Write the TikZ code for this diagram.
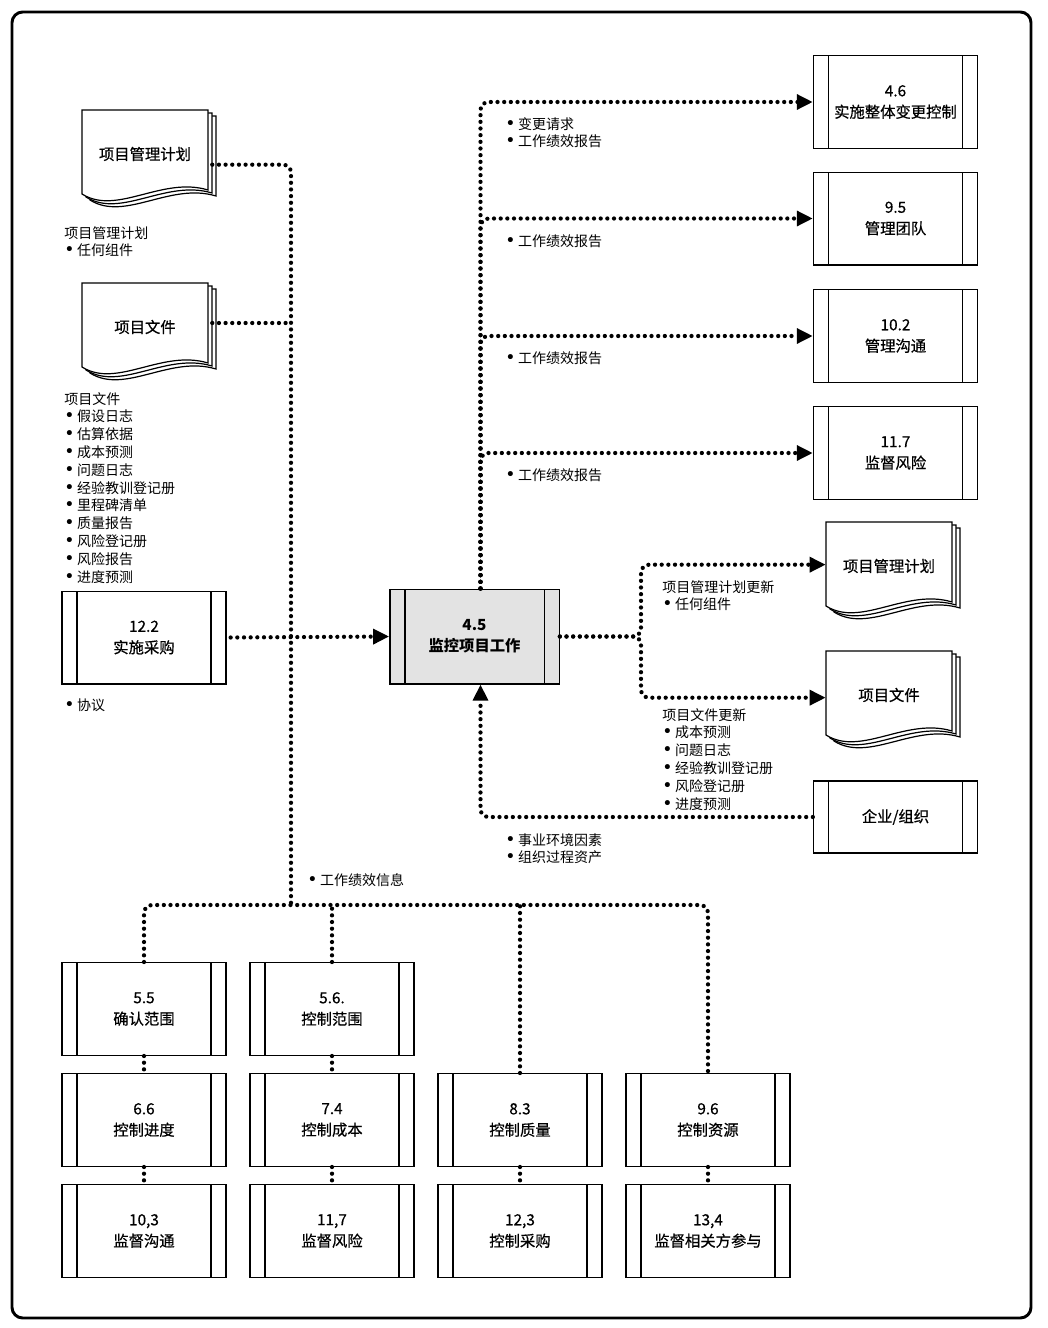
\documentclass[tikz,border=0pt]{standalone}
\usepackage{fontspec}
\setmainfont{Noto Sans CJK SC}
\newfontfamily\boxfont{Noto Sans CJK SC}[FakeBold=0.6]
\newfontfamily\symfont{DejaVu Sans}
\newcommand\bul{{\symfont\fontsize{13}{13}\selectfont\char"2022}\hspace{2pt}}
\usetikzlibrary{arrows.meta}

\tikzset{
  procbox/.style={draw, line width=1pt, fill=white, minimum width=123pt, minimum height=69.5pt,
    align=center, font=\boxfont\fontsize{11.5}{16}\selectfont,
    path picture={\draw[line width=1pt]
      ([xshift=11.25pt]path picture bounding box.north west) -- ([xshift=11.25pt]path picture bounding box.south west)
      ([xshift=-11.25pt]path picture bounding box.north east) -- ([xshift=-11.25pt]path picture bounding box.south east);}},
  docpage/.style={draw, line width=0.9pt, fill=white},
  docnode/.style={minimum width=94.5pt, minimum height=63pt, inner sep=0pt, font=\boxfont\fontsize{11.5}{16}\selectfont},
  flow/.style={line width=3.2pt, line cap=round, dash pattern=on 0pt off 5pt, rounded corners=6pt},
  toarrow/.style={-{Triangle[length=12pt,width=11pt]}},
  note/.style={anchor=north west, inner sep=0pt, align=left, font=\fontsize{10.5}{13.35}\selectfont},
}

% stacked document: name, left, top, text
\newcommand\docstack[4]{%
  \foreach \k in {2,1} {
    \draw[docpage, shift={(#2+4*\k,#3+3*\k)}] (0,0) -- (126,0) -- (126,80)
      .. controls (80,66) and (35,106) .. (0,84) -- cycle;
  }
  \draw[docpage, shift={(#2,#3)}] (0,0) -- (126,0) -- (126,80)
    .. controls (80,66) and (35,106) .. (0,84) -- cycle;
  \node[docnode] (#1) at (#2+63,#3+44) {#4};
}

\begin{document}
\begin{tikzpicture}[x=0.75pt,y=-0.75pt]
\useasboundingbox (0,0) rectangle (1048,1328);
\draw[line width=2.2pt, rounded corners=8pt] (12,12) rectangle (1031,1318);

% inputs
\docstack{pmp}{82}{110}{项目管理计划}
\docstack{pdoc}{82}{283}{项目文件}
\node[procbox] (proc122) at (144,637.5) {12.2\\实施采购};

% main process
\node[procbox, fill=black!11, minimum width=127pt, minimum height=71pt,
  font=\bfseries\fontsize{11.5}{16}\selectfont] (mon45) at (474.5,636.5) {4.5\\监控项目工作};

% outputs
\node[procbox] (icc46) at (895.5,102) {4.6\\实施整体变更控制};
\node[procbox] (team95) at (895.5,218.5) {9.5\\管理团队};
\node[procbox] (comm102) at (895.5,336) {10.2\\管理沟通};
\node[procbox] (risk117) at (895.5,453) {11.7\\监督风险};
\docstack{pmpu}{826}{522}{项目管理计划}
\docstack{pdocu}{826}{651}{项目文件}
\node[procbox, minimum height=54pt] (eef) at (895.5,817) {企业/组织};

% control processes
\node[procbox] (b55) at (144,1009) {5.5\\确认范围};
\node[procbox] (b56) at (332,1009) {5.6.\\控制范围};
\node[procbox] (b66) at (144,1120) {6.6\\控制进度};
\node[procbox] (b74) at (332,1120) {7.4\\控制成本};
\node[procbox] (b83) at (520,1120) {8.3\\控制质量};
\node[procbox] (b96) at (708,1120) {9.6\\控制资源};
\node[procbox] (b103) at (144,1231) {10,3\\监督沟通};
\node[procbox] (b117) at (332,1231) {11,7\\监督风险};
\node[procbox] (b123) at (520,1231) {12,3\\控制采购};
\node[procbox] (b134) at (708,1231) {13,4\\监督相关方参与};

\coordinate (bus) at (291,905);
\coordinate (fork) at (641,636);

% left side
\draw[flow] ([xshift=3pt,yshift=-8pt]pmp.east) -| (bus);
\draw[flow] ([xshift=3pt,yshift=3pt]pdoc.east) -- ([yshift=3pt]pdoc.east -| bus);
\draw[flow, toarrow] ([xshift=3pt]proc122.east) -- (mon45.west);
\draw[flow] (b55.north) |- (bus) -| (b96.north);
\draw[flow] (b56.north) -- (b56.north |- bus);
\draw[flow] (b83.north) -- (b83.north |- bus);
\draw[flow] (b55.south) -- (b66.north);
\draw[flow] (b66.south) -- (b103.north);
\draw[flow] (b56.south) -- (b74.north);
\draw[flow] (b74.south) -- (b117.north);
\draw[flow] (b83.south) -- (b123.north);
\draw[flow] (b96.south) -- (b134.north);

% top side
\draw[flow, toarrow] ([xshift=4.5pt]mon45.north) |- (icc46.west);
\draw[flow, toarrow] ([xshift=4.5pt]mon45.north) |- (team95.west);
\draw[flow, toarrow] ([xshift=4.5pt]mon45.north) |- (comm102.west);
\draw[flow, toarrow] ([xshift=4.5pt]mon45.north) |- (risk117.west);

% right side
\draw[flow, toarrow] (mon45.east) -| ([yshift=1pt]fork |- pmpu.west) -- ([yshift=1pt]pmpu.west);
\draw[flow, toarrow] (mon45.east) -| ([yshift=-2pt]fork |- pdocu.west) -- ([yshift=-2pt]pdocu.west);
\draw[flow, toarrow] (eef.west) -| ([xshift=4.5pt]mon45.south);

% labels
\node[note] (lpmp) at (64,226) {项目管理计划\\\bul 任何组件};
\node[note] (lpdoc) at (64,392) {项目文件\\\bul 假设日志\\\bul 估算依据\\\bul 成本预测\\\bul 问题日志\\\bul 经验教训登记册\\\bul 里程碑清单\\\bul 质量报告\\\bul 风险登记册\\\bul 风险报告\\\bul 进度预测};
\node[note] (lagr) at (64,698) {\bul 协议};
\node[note] (lcr) at (505,117) {\bul 变更请求\\\bul 工作绩效报告};
\node[note] (lwp1) at (505,234) {\bul 工作绩效报告};
\node[note] (lwp2) at (505,351) {\bul 工作绩效报告};
\node[note] (lwp3) at (505,468) {\bul 工作绩效报告};
\node[note] (lpmpu) at (662,580) {项目管理计划更新\\\bul 任何组件};
\node[note] (lpdocu) at (662,708) {项目文件更新\\\bul 成本预测\\\bul 问题日志\\\bul 经验教训登记册\\\bul 风险登记册\\\bul 进度预测};
\node[note] (leef) at (505,833) {\bul 事业环境因素\\\bul 组织过程资产};
\node[note] (lwpi) at (307,873) {\bul 工作绩效信息};
\end{tikzpicture}
\end{document}
